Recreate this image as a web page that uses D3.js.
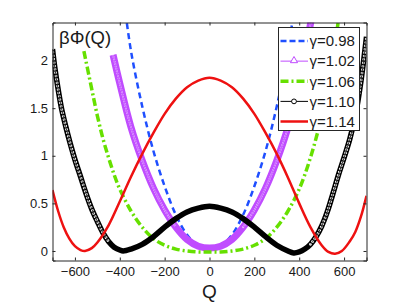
<!DOCTYPE html>
<html>
<head>
<meta charset="utf-8">
<script src="https://cdn.jsdelivr.net/npm/d3@7"></script>
<style>
  body { margin: 0; background: #fff; }
  text { font-family: "Liberation Sans", Arial, sans-serif; fill: #1a1a1a; }
</style>
</head>
<body>
<div id="chart"></div>
<script>
const width = 404, height = 305;
const margin = { left: 52.5, right: 37.5, top: 22.5, bottom: 44.5 };

// gamma = 0.98 (blue dashed)
const qBlue = [-380, -350, -300, -250, -200, -150, -100, -50, 0, 50, 100, 150, 200, 250, 300, 350, 380];
const phiBlue = [2.6, 2.1, 1.52, 1.05, 0.68, 0.38, 0.17, 0.05, 0.01, 0.05, 0.17, 0.38, 0.68, 1.05, 1.52, 2.1, 2.6];

// gamma = 1.02 (purple triangles)
const qPurple = [-430, -400, -350, -300, -250, -200, -150, -100, -50, 0, 50, 100, 150, 200, 250, 300, 350, 400, 455];
const phiPurple = [2.06, 1.76, 1.3, 0.95, 0.66, 0.43, 0.25, 0.12, 0.05, 0.03, 0.05, 0.12, 0.25, 0.43, 0.66, 0.95, 1.3, 1.76, 2.45];

// gamma = 1.06 (green dash-dot)
const qGreen = [-560, -525, -500, -475, -450, -425, -400, -350, -300, -250, -200, -150, -100, -50, 0, 50, 100, 150, 200, 250, 300, 350, 400, 450, 500, 550, 580];
const phiGreen = [2.1, 1.7, 1.42, 1.18, 0.98, 0.8, 0.65, 0.42, 0.25, 0.13, 0.06, 0.02, 0.0, -0.01, -0.01, -0.01, 0.0, 0.02, 0.06, 0.13, 0.25, 0.42, 0.65, 0.98, 1.42, 2.05, 2.5];

// gamma = 1.10 (black circles)
const qBlack = [-700, -690, -675, -660, -640, -620, -600, -575, -550, -525, -500, -475, -450, -425, -400, -385, -350, -300, -250, -200, -150, -100, -50, 0, 50, 100, 150, 200, 250, 300, 350, 375, 400, 425, 450, 475, 500, 525, 550, 575, 600, 625, 650, 675, 700];
const phiBlack = [2.12, 1.93, 1.7, 1.5, 1.3, 1.12, 0.96, 0.78, 0.6, 0.44, 0.31, 0.19, 0.1, 0.04, 0.01, 0.0, 0.02, 0.07, 0.15, 0.25, 0.34, 0.41, 0.45, 0.47, 0.45, 0.41, 0.34, 0.25, 0.15, 0.06, 0.0, -0.02, -0.01, 0.02, 0.07, 0.15, 0.26, 0.41, 0.6, 0.8, 0.98, 1.17, 1.42, 1.78, 2.25];

// gamma = 1.14 (red solid)
const qRed = [-700, -675, -650, -625, -600, -575, -555, -525, -500, -450, -400, -350, -300, -250, -200, -150, -100, -50, 0, 50, 100, 150, 200, 250, 300, 350, 400, 450, 500, 530, 560, 590, 625, 650, 675, 700];
const phiRed = [0.64, 0.42, 0.25, 0.13, 0.05, 0.01, 0.0, 0.03, 0.09, 0.27, 0.52, 0.78, 1.02, 1.24, 1.44, 1.6, 1.72, 1.79, 1.82, 1.79, 1.72, 1.6, 1.44, 1.24, 1.02, 0.77, 0.5, 0.25, 0.06, -0.01, -0.03, 0.0, 0.1, 0.2, 0.36, 0.58];

const xTicks = [-600, -400, -200, 0, 200, 400, 600];
const yTicks = [0, 0.5, 1, 1.5, 2];
const legendLabels = ["γ=0.98", "γ=1.02", "γ=1.06", "γ=1.10", "γ=1.14"];

const series = [
  { q: qBlue, phi: phiBlue, color: "#1f4fff", kind: "dash" },
  { q: qPurple, phi: phiPurple, color: "#c04cff", kind: "tri" },
  { q: qGreen, phi: phiGreen, color: "#66e000", kind: "dashdot" },
  { q: qBlack, phi: phiBlack, color: "#000000", kind: "circ" },
  { q: qRed, phi: phiRed, color: "#ee1111", kind: "solid" }
];

const xScale = d3.scaleLinear().domain([-700, 700]).range([margin.left, width - margin.right]);
const yScale = d3.scaleLinear().domain([-0.1, 2.4]).range([height - margin.bottom, margin.top]);

const svg = d3.select("#chart").append("svg")
  .attr("width", width).attr("height", height)
  .attr("viewBox", [0, 0, width, height]);

svg.append("clipPath").attr("id", "plot")
  .append("rect")
  .attr("x", margin.left).attr("y", margin.top)
  .attr("width", width - margin.left - margin.right)
  .attr("height", height - margin.top - margin.bottom);

const line = d3.line()
  .x(d => xScale(d[0]))
  .y(d => yScale(d[1]))
  .curve(d3.curveCatmullRom);

const plot = svg.append("g").attr("clip-path", "url(#plot)");

// marker lines: a solid band, with hollow look on the steep parts
const steepParts = (pts) => {
  const parts = [];
  let cur = null;
  for (let i = 1; i < pts.length; i++) {
    const dx = Math.abs(xScale(pts[i][0]) - xScale(pts[i - 1][0]));
    const dy = Math.abs(yScale(pts[i][1]) - yScale(pts[i - 1][1]));
    if (dy > 1.3 * dx) {
      if (!cur) { cur = [pts[i - 1]]; parts.push(cur); }
      cur.push(pts[i]);
    } else {
      cur = null;
    }
  }
  return parts;
};

series.forEach(s => {
  const pts = s.q.map((q, i) => [q, s.phi[i]]);
  if (s.kind === "dash") {
    plot.append("path").attr("d", line(pts)).attr("fill", "none")
      .attr("stroke", s.color).attr("stroke-width", 2.5).attr("stroke-dasharray", "6,4");
  } else if (s.kind === "dashdot") {
    plot.append("path").attr("d", line(pts)).attr("fill", "none")
      .attr("stroke", s.color).attr("stroke-width", 3.5).attr("stroke-dasharray", "8,3,2,3");
  } else if (s.kind === "solid") {
    plot.append("path").attr("d", line(pts)).attr("fill", "none")
      .attr("stroke", s.color).attr("stroke-width", 2.5);
  } else {
    const circ = s.kind === "circ";
    plot.append("path").attr("d", line(pts)).attr("fill", "none")
      .attr("stroke", s.color).attr("stroke-width", circ ? 5.5 : 7).attr("stroke-linejoin", "round");
    steepParts(pts).forEach(p => {
      plot.append("path").attr("d", line(p)).attr("fill", "none")
        .attr("stroke", "#fff").attr("stroke-width", circ ? 2.8 : 2.2)
        .attr("stroke-linecap", "round")
        .attr("stroke-dasharray", circ ? "0,3.4" : "0,2.4")
        .attr("opacity", circ ? 1 : 0.6);
      plot.append("path").attr("d", line(p)).attr("fill", "none")
        .attr("stroke", s.color).attr("stroke-width", 0.8);
    });
  }
});

// axes with inward ticks, box on
const axisColor = "#262626";
const xAxis = d3.axisBottom(xScale).tickValues(xTicks).tickSize(-3).tickPadding(6.5)
  .tickFormat(d => d < 0 ? "\u2212" + Math.abs(d) : d);
const yAxis = d3.axisLeft(yScale).tickValues(yTicks).tickSize(-3).tickPadding(4.5)
  .tickFormat(d => d);

svg.append("g").attr("transform", `translate(0, ${height - margin.bottom})`).call(xAxis);
svg.append("g").attr("transform", `translate(${margin.left}, 0)`).call(yAxis);
svg.append("g").attr("transform", `translate(0, ${margin.top})`)
  .call(d3.axisTop(xScale).tickValues(xTicks).tickSize(-3).tickFormat(""));
svg.append("g").attr("transform", `translate(${width - margin.right}, 0)`)
  .call(d3.axisRight(yScale).tickValues(yTicks).tickSize(-3).tickFormat(""));

svg.selectAll(".domain").attr("stroke", axisColor);
svg.selectAll(".tick line").attr("stroke", axisColor);
svg.selectAll(".tick text").attr("font-size", 13).attr("fill", "#1a1a1a")
  .style("font-family", "'Liberation Sans', Arial, sans-serif");

// labels
svg.append("text").attr("x", xScale(0)).attr("y", 298)
  .attr("text-anchor", "middle").attr("font-size", 19).text("Q");
svg.append("text").attr("x", 59).attr("y", 44)
  .attr("font-size", 18.5).text("βΦ(Q)");

// legend
const lg = svg.append("g");
lg.append("rect").attr("x", 278.5).attr("y", 27.5).attr("width", 81).attr("height", 103)
  .attr("fill", "#fff").attr("stroke", axisColor).attr("stroke-width", 1);
const legendY = d3.scalePoint().domain(legendLabels).range([41, 121.5]);
legendLabels.forEach((lab, i) => {
  const s = series[i];
  const y = legendY(lab);
  const ln = lg.append("line").attr("x1", 280.5).attr("x2", 308).attr("y1", y).attr("y2", y)
    .attr("stroke", s.color);
  if (s.kind === "dash") ln.attr("stroke-width", 2.5).attr("stroke-dasharray", "6,3");
  else if (s.kind === "dashdot") ln.attr("stroke-width", 3.5).attr("stroke-dasharray", "8,3,2,3");
  else if (s.kind === "solid") ln.attr("stroke-width", 2.5);
  else ln.attr("stroke-width", 1);
  if (s.kind === "tri") {
    lg.append("path").attr("d", d3.symbol(d3.symbolTriangle, 22)())
      .attr("transform", `translate(294, ${y - 0.5})`)
      .attr("fill", "#fff").attr("stroke", s.color).attr("stroke-width", 1);
  }
  if (s.kind === "circ") {
    lg.append("circle").attr("cx", 294).attr("cy", y).attr("r", 2.4)
      .attr("fill", "#fff").attr("stroke", s.color).attr("stroke-width", 1);
  }
  lg.append("text").attr("x", 309.5).attr("y", y + 5.3).attr("font-size", 15).text(lab);
});
</script>
</body>
</html>
